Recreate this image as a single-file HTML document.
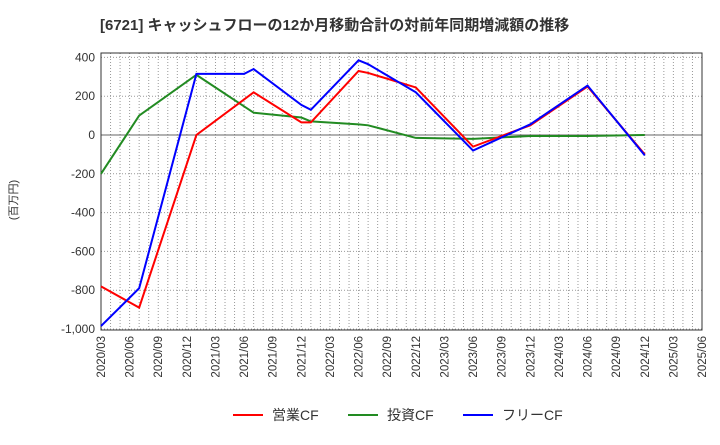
<!DOCTYPE html>
<html><head><meta charset="utf-8"><style>
body{margin:0;background:#fff;font-family:"Liberation Sans","Noto Sans CJK JP",sans-serif}
</style></head><body>
<svg id="c" width="720" height="440" xmlns="http://www.w3.org/2000/svg" style="font-family:'Liberation Sans','Noto Sans CJK JP',sans-serif">
<text x="100" y="30" font-size="15" font-weight="bold" fill="#333">[6721]  キャッシュフローの12か月移動合計の対前年同期増減額の推移</text>
<text transform="translate(17,200) rotate(-90)" font-size="11" fill="#333" text-anchor="middle">(百万円)</text>
<g id="grid"></g><g id="axes"></g><g id="series"></g>
<g>
<line x1="233" y1="415" x2="263" y2="415" stroke="#f00" stroke-width="2"/><text x="272" y="420" font-size="14" fill="#333">営業CF</text>
<line x1="348" y1="415" x2="378" y2="415" stroke="#228b22" stroke-width="2"/><text x="387" y="420" font-size="14" fill="#333">投資CF</text>
<line x1="463" y1="415" x2="493" y2="415" stroke="#00f" stroke-width="2"/><text x="502" y="420" font-size="14" fill="#333">フリーCF</text>
</g>
</svg>
<script>
const months=[0,4,10,15,16,21,22,27,28,33,39,45,51,57];
const operatingCF=[-780,-890,0,null,220,65,65,330,320,245,-60,50,250,-100];
const investingCF=[-200,100,310,null,115,90,70,55,50,-15,-20,-5,-5,0];
const freeCF=[-985,-790,315,315,340,155,130,385,365,220,-80,55,255,-105];
const yTicks=[400,200,0,-200,-400,-600,-800,-1000];
const xLabels=["2020/03","2020/06","2020/09","2020/12","2021/03","2021/06","2021/09","2021/12","2022/03","2022/06","2022/09","2022/12","2023/03","2023/06","2023/09","2023/12","2024/03","2024/06","2024/09","2024/12","2025/03","2025/06"];
const L=101,R=702,T=53,B=330,NM=63;
const x=m=>L+m*(R-L)/NM;
const y=v=>135-v*(38.8/200);
const ns="http://www.w3.org/2000/svg";
function mk(p,t,a){const e=document.createElementNS(ns,t);for(const k in a)e.setAttribute(k,a[k]);p.appendChild(e);return e;}
const g=document.getElementById('grid'),ax=document.getElementById('axes'),s=document.getElementById('series');
for(let m=1;m<NM;m++){const l=mk(g,'line',{x1:x(m),x2:x(m),y1:T,y2:B,stroke:'#999','stroke-dasharray':'1,2','stroke-width':1});

}
yTicks.forEach(v=>{const l=mk(g,'line',{x1:L,x2:R,y1:y(v),y2:y(v),stroke:v===0?'#666':'#999','stroke-dasharray':v===0?'':'1,2','stroke-width':1});


const t=mk(ax,'text',{x:L-6,y:y(v)+4,'text-anchor':'end','font-size':12,fill:'#333'});t.textContent=v.toLocaleString('en-US');

});
const fr=mk(ax,'rect',{x:L,y:T,width:R-L,height:B-T,fill:'none',stroke:'#333','stroke-width':1});


xLabels.forEach((lab,i)=>{const xx=x(i*3);const t=mk(ax,'text',{transform:`translate(${xx+4},${B+6}) rotate(-90)`,'text-anchor':'end','font-size':11.5,fill:'#333'});t.textContent=lab;

});
function line(d,c,name){const pts=[];d.forEach((v,i)=>{if(v!==null)pts.push(x(months[i])+','+y(v));});
const p=mk(s,'polyline',{points:pts.join(' '),fill:'none',stroke:c,'stroke-width':2});

}
line(investingCF,'#228b22','investing-cf-line');
line(operatingCF,'#f00','operating-cf-line');
line(freeCF,'#00f','free-cf-line');
</script>
</body></html>
